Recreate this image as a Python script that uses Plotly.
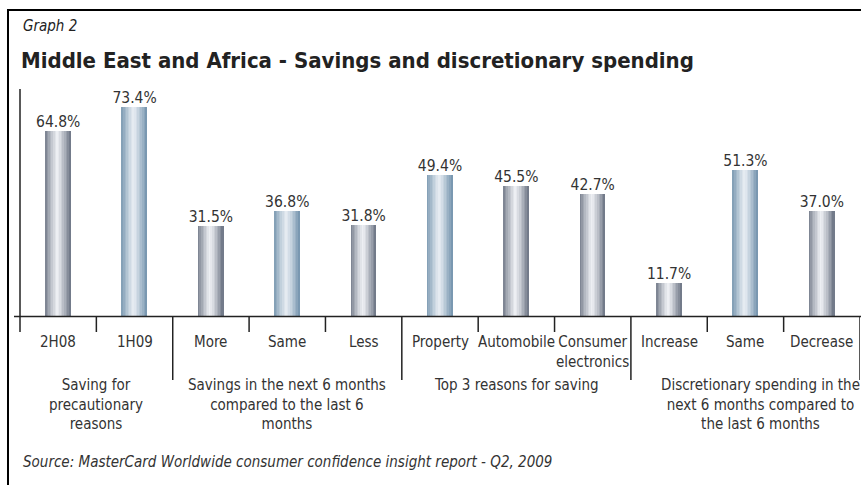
import plotly.graph_objects as go

# ---- data ----
categories = ["2H08", "1H09", "More", "Same", "Less", "Property", "Automobile",
              "Consumer<br>electronics", "Increase", "Same", "Decrease"]
values = [64.8, 73.4, 31.5, 36.8, 31.8, 49.4, 45.5, 42.7, 11.7, 51.3, 37.0]
bar_tone = ["grey", "blue", "grey", "blue", "grey", "blue", "grey", "grey", "grey", "blue", "grey"]
groups = ["Saving for<br>precautionary<br>reasons",
          "Savings in the next 6 months<br>compared to the last 6<br>months",
          "Top 3 reasons for saving",
          "Discretionary spending in the<br>next 6 months compared to<br>the last 6 months"]
group_spans = [(0, 1), (2, 4), (5, 7), (8, 10)]

FONT = "DejaVu Sans Condensed, Liberation Sans Narrow, sans-serif"
TXT = "#333333"

W, H = 861, 485
L, R = 20, 860
TOP, BASE = 89, 316
PW, PH = R - L, BASE - TOP
YMAX = PH / 2.85


def px(x):
    return (x - L) / PW


def py(y):
    return (BASE - y) / PH


def mix(c1, c2, t):
    return "rgb(%d,%d,%d)" % tuple(round(a + (b - a) * t) for a, b in zip(c1, c2))


edges = {"grey": (106, 114, 130), "blue": (114, 146, 172)}
centers = {"grey": (238, 240, 244), "blue": (230, 236, 242)}

fig = go.Figure()
N = 16
bw = 0.33
idx = list(range(len(categories)))
for j in range(N):
    t = (j + 0.5) / N
    f = max(0.0, 1 - abs((t - 0.48) / 0.52) ** 1.2)
    cols = [mix(edges[k], centers[k], f) for k in bar_tone]
    fig.add_trace(go.Bar(x=idx, y=values, width=bw / N + 0.002,
                         offset=-bw / 2 + j * bw / N,
                         marker=dict(color=cols, line=dict(width=0)),
                         hoverinfo="skip", showlegend=False))

fig.add_trace(go.Scatter(x=idx, y=values, mode="text",
                         text=["%.1f%%" % v for v in values],
                         textposition="top center",
                         textfont=dict(family=FONT, size=15.5, color=TXT),
                         showlegend=False, hoverinfo="skip", cliponaxis=False))

shapes = []
# outer border
shapes.append(dict(type="path", xref="paper", yref="paper",
                   path="M %f %f L %f %f L %f %f" % (px(8), py(490), px(8), py(10), px(866), py(10)),
                   line=dict(color="black", width=2)))
# x axis line
shapes.append(dict(type="line", xref="paper", yref="paper",
                   x0=px(14), x1=px(866), y0=py(316.5), y1=py(316.5),
                   line=dict(color="#222", width=1.5)))
# y axis line (with downward extension)
shapes.append(dict(type="line", xref="paper", yref="paper",
                   x0=0, x1=0, y0=py(332), y1=py(89),
                   line=dict(color="#222", width=1.5)))
group_ends = [e for s, e in group_spans]
for i in range(len(categories)):
    b = i + 0.5
    long = i in group_ends
    shapes.append(dict(type="line", xref="x", yref="paper",
                       x0=b, x1=b, y0=py(316.5), y1=py(380 if long else 332),
                       line=dict(color="#222", width=1.5)))

ann = []
ann.append(dict(text="<i>Graph 2</i>", xref="paper", yref="paper", x=px(21), y=py(26),
                xanchor="left", yanchor="middle", showarrow=False,
                font=dict(family=FONT, size=15, color="#222")))
ann.append(dict(text="<b>Middle East and Africa - Savings and discretionary spending</b>",
                xref="paper", yref="paper", x=px(19), y=py(61),
                xanchor="left", yanchor="middle", showarrow=False,
                font=dict(family=FONT, size=22, color="#222")))
for i, c in enumerate(categories):
    ann.append(dict(text=c, xref="x", yref="paper", x=i, y=py(331),
                    xanchor="center", yanchor="top", showarrow=False,
                    font=dict(family=FONT, size=15, color=TXT)))
for g, (s, e) in zip(groups, group_spans):
    cx = (s + e) / 2 + (0.2 if e == 10 else 0)
    ann.append(dict(text=g, xref="x", yref="paper", x=cx, y=py(374),
                    xanchor="center", yanchor="top", showarrow=False, align="center",
                    font=dict(family=FONT, size=15, color=TXT)))
ann.append(dict(text="<i>Source: MasterCard Worldwide consumer confidence insight report - Q2, 2009</i>",
                xref="paper", yref="paper", x=px(21), y=py(462),
                xanchor="left", yanchor="middle", showarrow=False,
                font=dict(family=FONT, size=15, color=TXT)))

fig.update_layout(
    width=W, height=H, margin=dict(l=L, r=W - R, t=TOP, b=H - BASE),
    paper_bgcolor="white", plot_bgcolor="white",
    barmode="overlay", bargap=0,
    xaxis=dict(range=[-0.5, 10.5], showticklabels=False, showgrid=False,
               zeroline=False, showline=False, ticks="", fixedrange=True),
    yaxis=dict(range=[0, YMAX], showticklabels=False, showgrid=False,
               zeroline=False, showline=False, ticks="", fixedrange=True),
    shapes=shapes, annotations=ann, showlegend=False,
)

fig.write_html("out.html")
